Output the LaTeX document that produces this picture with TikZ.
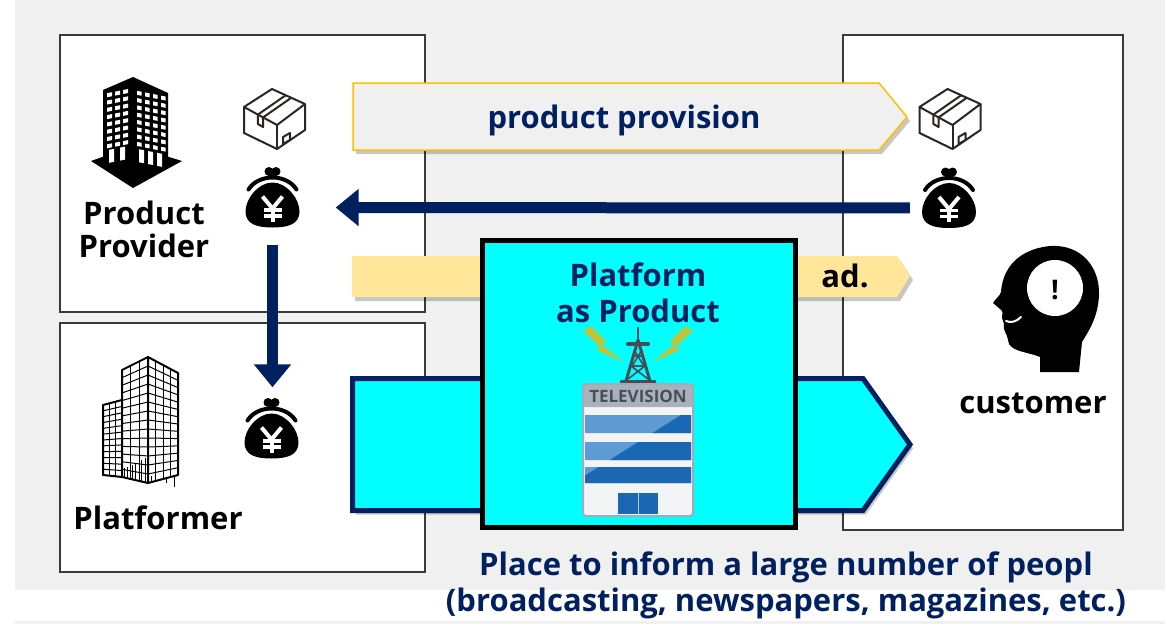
\documentclass[tikz,border=0pt]{standalone}
\usepackage{fontspec}
\setmainfont{Open Sans}
\usetikzlibrary{arrows.meta,shadows}

\definecolor{bggray}{HTML}{F0F0F0}
\definecolor{navy}{HTML}{002060}
\definecolor{gold}{HTML}{FFC000}
\definecolor{adyellow}{HTML}{FFE699}
\definecolor{boxline}{HTML}{3A3A3A}
\definecolor{parcelink}{HTML}{2B2623}
\definecolor{tvgray}{HTML}{A3ABB7}
\definecolor{tvband}{HTML}{A9B1BD}
\definecolor{tvtext}{HTML}{4A4F57}
\definecolor{tvwhite}{HTML}{F3F4F6}
\definecolor{tvlight}{HTML}{5E9AD3}
\definecolor{tvdark}{HTML}{1A68B4}
\definecolor{bolt}{HTML}{B9C43F}
\definecolor{towergray}{HTML}{474C55}
\definecolor{aqua}{HTML}{00FFFF}

\tikzset{
  whitebox/.style={draw=boxline, line width=1.5pt, fill=white, inner sep=0pt},
  iconslot/.style={inner sep=0pt, minimum width=58pt, minimum height=64pt},
  lbl/.style={font=\bfseries\fontsize{31}{33}\selectfont, align=center, inner sep=0pt},
  navylbl/.style={lbl, text=navy},
  flow/.style={draw=navy, line width=11pt, -{Triangle[length=23pt,width=36pt]}},
  softshadow/.style={drop shadow={shadow xshift=3pt, shadow yshift=-4pt, opacity=0.22, fill=black}},
  pics/yenbag/.style={code={
    \fill (0,-14) .. controls (14,-14) and (27,2) .. (27,15)
      .. controls (27,28) and (15,31) .. (0,31)
      .. controls (-15,31) and (-27,28) .. (-27,15)
      .. controls (-27,2) and (-14,-14) .. (0,-14) -- cycle;
    \draw[white, line width=8pt, line cap=round] (-24,-7) .. controls (-14,-23) and (14,-23) .. (24,-7);
    \draw[black, line width=4pt, line cap=round] (-24,-7) .. controls (-14,-23) and (14,-23) .. (24,-7);
    \fill (-3.5,-25) circle (4.5);
    \fill (3.5,-25) circle (4.5);
    \fill (-3.5,-25) rectangle (3.5,-21);
    % yen sign
    \draw[white, line width=4pt, line join=miter] (-10,0) -- (0,12) -- (10,0);
    \draw[white, line width=4pt] (0,11) -- (0,25);
    \draw[white, line width=3.5pt] (-9,13.5) -- (9,13.5) (-9,19.5) -- (9,19.5);
  }},
  pics/parcel/.style={code={
    \begin{scope}[draw=parcelink, line width=2pt, line join=round]
      \draw (-2,-30) -- (-30,-12) -- (3,6) -- (31,-15) -- cycle;
      \draw (-30,-12) -- (-30,14) -- (3,30) -- (31,11) -- (31,-15);
      \draw (3,6) -- (3,30);
      \draw (-16.1,-4.4) -- (11.9,-23.9);
      \draw (-10.9,-1.6) -- (17.1,-21.1);
      \draw (-16.1,-4.4) -- (-16.1,5) -- (-10.9,8) -- (-10.9,-1.6);
      \draw (9,18) -- (16,14) -- (16,21) -- (9,25) -- cycle;
    \end{scope}
  }},
}

\begin{document}
\begin{tikzpicture}[x=1pt,y=-1pt]
\useasboundingbox (0,0) rectangle (1170,624);
% page background
\fill[white] (0,0) rectangle (1170,624);
\fill[bggray] (15,0) rectangle (1165,590);
\fill[bggray] (15,621) rectangle (1165,624);

% actor panels
\node[whitebox, minimum width=365pt, minimum height=277pt] (provbox) at (242.5,173.5) {};
\node[whitebox, minimum width=365pt, minimum height=249pt] (platbox) at (242.5,447.5) {};
\node[whitebox, minimum width=280pt, minimum height=495pt] (custbox) at (983,282.5) {};

% solid office building (product provider)
\fill (91,161) -- (133,146) -- (182,161) -- (133,188) -- cycle;
\fill (103,90) -- (133,77) -- (168,93) -- (168,162) -- (133,177) -- (103,162) -- cycle;
\begin{scope}[shift={(103,0)}, yslant=0.2]
  \foreach \c in {4,12,20}
    \foreach \r in {0,...,7}
      \fill[white] (\c,{94+7.3*\r}) rectangle ++(5,4);
  \fill[white] (6,151) rectangle (11,164);
  \fill[white] (17,151) rectangle (22,164);
\end{scope}
\begin{scope}[shift={(133,0)}, yslant=-0.2]
  \foreach \c in {4,12,20,28}
    \foreach \r in {0,...,7}
      \fill[white] (\c,{90+7.3*\r}) rectangle ++(4.5,4);
  \fill[white] (6,148) rectangle (11,161);
  \fill[white] (15,148) rectangle (20,161);
  \fill[white] (24,148) rectangle (29,161);
\end{scope}

% line-art office towers (platformer)
\begin{scope}[line join=round]
  \filldraw[fill=white, line width=2pt] (103,405) -- (122,400) -- (122,477) -- (103,475) -- cycle;
  \foreach \i in {1,...,11}
    \draw[line width=1pt] (103,{405+\i*70/12}) -- (122,{400+\i*77/12});
  \foreach \f in {0.33,0.67}
    \draw[line width=1pt] ({103+19*\f},{405-5*\f}) -- ({103+19*\f},{475+2*\f});
  \filldraw[fill=white, line width=2pt] (122,370) -- (148,357) -- (148,483) -- (122,477) -- cycle;
  \foreach \i in {1,...,13}
    \draw[line width=1pt] (122,{370+\i*107/14}) -- (148,{357+\i*126/14});
  \foreach \f in {0.33,0.67}
    \draw[line width=1pt] ({122+26*\f},{370-13*\f}) -- ({122+26*\f},{477+6*\f});
  \foreach \f in {0.1,0.2,0.4,0.5,0.75,0.9}
    \draw[line width=0.8pt] ({122+26*\f},{370+13*107/14-13*\f*(1-0.07)}) -- ({122+26*\f},{477+6*\f});
  \filldraw[fill=white, line width=2pt] (148,357) -- (178,373) -- (178,475) -- (148,483) -- cycle;
  \foreach \i in {1,...,13}
    \draw[line width=1pt] (148,{357+\i*126/14}) -- (178,{373+\i*102/14});
  \foreach \f in {0.25,0.5,0.75}
    \draw[line width=1pt] ({148+30*\f},{357+16*\f}) -- ({148+30*\f},{483-8*\f});
  \foreach \f in {0.125,0.375,0.625,0.875}
    \draw[line width=0.8pt] ({148+30*\f},{357+13*126/14+16*\f*(1-0.07)}) -- ({148+30*\f},{483-8*\f});
\end{scope}

% money purses and parcels
\node[iconslot] (bagPP) at (272.5,196.5) {};
\pic at (bagPP) {yenbag};
\node[iconslot] (bagC) at (949,197) {};
\pic at (bagC) {yenbag};
\node[iconslot] (bagPF) at (271.5,427.5) {};
\pic at (bagPF) {yenbag};
\node[iconslot] (parcelPP) at (274,119) {};
\pic at (parcelPP) {parcel};
\node[iconslot] (parcelC) at (949.5,119) {};
\pic at (parcelC) {parcel};

% customer head
\fill (1050,246) .. controls (1082,244) and (1100,268) .. (1099,295)
  .. controls (1098,318) and (1088,332) .. (1082,342) -- (1079,372) -- (1040,372) -- (1040,357)
  .. controls (1028,352) and (1014,352) .. (1009,344) -- (1007,336)
  .. controls (1005,332) and (1003,328) .. (1004,324) -- (1002,318)
  .. controls (1002,313) and (1004,312) .. (1000,309) -- (993,303)
  .. controls (996,298) and (1000,296) .. (1001,292)
  .. controls (1002,275) and (1012,250) .. (1050,246) -- cycle;
\fill[white] (1055,288) circle (28);
\draw[white, line width=2pt, line cap=round] (1006,321) .. controls (1011,323) and (1016,322) .. (1021,317);
\node[lbl, font=\bfseries\fontsize{27}{27}\selectfont] (excl) at (1055,290) {!};

% product provision arrow
\filldraw[fill=bggray, draw=gold, line width=1.5pt, softshadow]
  (353,83) -- (879,83) -- (907,117) -- (879,150) -- (353,150) -- cycle;
\node[navylbl] (provision) at (624,120) {product provision};

% advertisement arrow
\fill[adyellow, softshadow] (352,256) -- (897,256) -- (910,276) -- (897,297) -- (352,297) -- cycle;
\node[lbl] (ad) at (845,276) {ad.};

% broadcasting reach arrow
\filldraw[fill=aqua, draw=navy, line width=5pt, softshadow]
  (352.5,378.5) -- (863,378.5) -- (910,444.5) -- (863,510.5) -- (352.5,510.5) -- cycle;

% platform panel
\node[draw=black, line width=5pt, fill=aqua, minimum width=313pt, minimum height=287pt, inner sep=0pt] (pap) at (639,384) {};
\node[navylbl, font=\bfseries\fontsize{31}{36}\selectfont] (paptext) at (638,293) {Platform\\as Product};

% TV station: lightning
\fill[bolt] (583,331) -- (591,326) -- (606,341) -- (602,344) -- (623,362) -- (596,350) -- (600,347) -- cycle;
\fill[bolt] (693,331) -- (685,326) -- (670,341) -- (674,344) -- (653,362) -- (680,350) -- (676,347) -- cycle;
% TV station: tower
\begin{scope}[draw=towergray, fill=towergray]
  \draw[line width=2pt] (638,327) -- (638,345);
  \draw[line width=3pt] (638,340) -- (626,381);
  \draw[line width=3pt] (638,340) -- (650,381);
  \draw[line width=1.6pt] (633,356) -- (643,356) (631,366) -- (645,366);
  \draw[line width=1.6pt] (634,350) -- (644,366) (642,350) -- (632,366);
  \draw[line width=1.6pt] (631,366) -- (648,379) (645,366) -- (628,379);
  \draw[line width=4pt, line cap=round] (628,344) -- (648,344);
  \fill[rounded corners=1pt] (620,380) rectangle (656,386);
\end{scope}
% TV station: building
\fill[tvwhite, rounded corners=3pt] (583,384) rectangle (693,516);
\fill[tvband, rounded corners=3pt] (583,384) rectangle (693,407);
\fill[tvband] (583,398) rectangle (693,407);
\begin{scope}
  \clip (585,415) rectangle (691,433) (585,442) rectangle (691,460) (585,467) rectangle (691,483);
  \fill[tvlight] (580,410) rectangle (696,490);
  \fill[tvdark] (700,403) -- (700,490) -- (578,490) -- (578,480) -- cycle;
\end{scope}
\fill[tvdark] (618,493) rectangle (658,514);
\draw[tvwhite!70!tvdark, line width=1pt] (638,493) -- (638,514);
\draw[tvgray, line width=2pt, rounded corners=3pt] (583,384) rectangle (693,516);
\node[text=tvtext, font=\bfseries\fontsize{17}{17}\selectfont, inner sep=0pt] (tvsign) at (638,396) {TELEVISION};

% money flows
\draw[flow, shorten <=10pt, shorten >=34pt] ([yshift=-11pt]bagC.west) -- ([yshift=-11pt]bagPP.east);
\draw[flow, shorten <=16pt, shorten >=8pt] (bagPP.south) -- (bagPP.south |- bagPF.north);

% labels
\node[lbl] (provlabel) at (144,229) {Product\\Provider};
\node[lbl] (platlabel) at (158,518) {Platformer};
\node[lbl] (custlabel) at (1033,403) {customer};
\node[navylbl, font=\bfseries\fontsize{31}{36}\selectfont] (reach) at (786,585)
  {Place to inform a large number of peopl\\(broadcasting, newspapers, magazines, etc.)};
\end{tikzpicture}
\end{document}
